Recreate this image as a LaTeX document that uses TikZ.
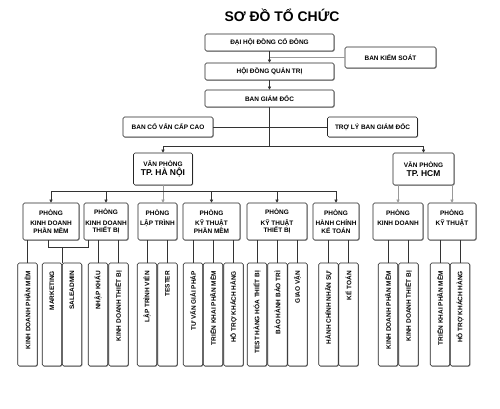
\documentclass[tikz,border=0pt]{standalone}
\usepackage{fontspec}
\setmainfont{Liberation Sans}
\usetikzlibrary{arrows.meta, positioning, calc, shadows}

% rotated text for the narrow boxes, end of text near the top
\newcommand{\vtext}[1]{\rotatebox{90}{\makebox[87bp][r]{#1}}}

\begin{document}
\begin{tikzpicture}[x=1bp, y=-1bp,
	box/.style={draw=black!85, line width=0.6pt, rounded corners=1.5pt, fill=white,
		drop shadow={shadow xshift=0.7pt, shadow yshift=-0.7pt, fill=black!70, opacity=0.7},
		inner sep=0pt, align=center, font=\fontsize{6.5}{7.7}\selectfont\bfseries},
	topbox/.style={box, minimum width=129bp, minimum height=17bp},
	sidebox/.style={box, minimum width=90bp, minimum height=20bp},
	vpbox/.style={box, minimum width=59bp, minimum height=32bp},
	deptbox/.style={box, minimum height=37bp},
	leaf/.style={box, minimum width=19.5bp, minimum height=103bp},
	conn/.style={draw=black!80, line width=0.55pt},
	light/.style={draw=black!40, line width=0.55pt},
	arr/.style={conn, -{Triangle[width=3pt, length=3pt]}},
	]
	\useasboundingbox (0,0) rectangle (500,408);
	\node[font=\fontsize{14}{16}\selectfont\bfseries] (title) at (282,15) {SƠ ĐỒ TỔ CHỨC};
	% Board levels
	\node[topbox] (dhcd) at (269.5,42.5) {ĐẠI HỘI ĐỒNG CỔ ĐÔNG};
	\node[topbox] (hdqt) at (269.5,71.5) {HỘI ĐỒNG QUẢN TRỊ};
	\node[topbox] (bgd) at (269.5,98.5) {BAN GIÁM ĐỐC};
	\node[box, minimum width=91bp, minimum height=21bp] (bks) at (390.5,57.5) {BAN KIỂM SOÁT};
	\node[sidebox] (bcv) at (168,127) {BAN CỐ VẤN CẤP CAO};
	\node[sidebox] (tly) at (372.5,127) {TRỢ LÝ BAN GIÁM ĐỐC};
	% Offices
	\node[vpbox] (vphn) at (163,169) {VĂN PHÒNG\\[1pt]\fontsize{8.5}{10}\selectfont TP. HÀ NỘI};
	\node[vpbox, minimum width=61bp] (vphcm) at (423.5,169) {VĂN PHÒNG\\[1pt]\fontsize{8.5}{10}\selectfont TP. HCM};
	% Departments
	\node[deptbox, minimum width=56bp] (d1) at (51,221.5) {PHÒNG\\[3pt]KINH DOANH\\PHẦN MỀM};
	\node[deptbox, minimum width=44bp] (d2) at (106,221.5) {PHÒNG\\[3pt]KINH DOANH\\THIẾT BỊ};
	\node[deptbox, minimum width=39bp] (d3) at (157.5,221.5) {PHÒNG\\[3pt]LẬP TRÌNH\\\mbox{}};
	\node[deptbox, minimum width=57bp] (d4) at (211.5,221.5) {PHÒNG\\[3pt]KỸ THUẬT\\PHẦN MỀM};
	\node[deptbox, minimum width=60bp] (d5) at (277,221.5) {PHÒNG\\[3pt]KỸ THUẬT\\THIẾT BỊ};
	\node[deptbox, minimum width=46bp] (d6) at (336,221.5) {PHÒNG\\[3pt]HÀNH CHÍNH\\KẾ TOÁN};
	\node[deptbox, minimum width=50bp] (d7) at (398,221.5) {PHÒNG\\[3pt]KINH DOANH\\\mbox{}};
	\node[deptbox, minimum width=48bp] (d8) at (452,221.5) {PHÒNG\\[3pt]KỸ THUẬT\\\mbox{}};
	% Teams
	\foreach \x/\n/\t in {27.5/l1/KINH DOANH PHẦN MỀM, 52/l2/MARKETING, 72/l3/SALEADMIN,
		98/l4/NHẬP KHẨU, 118.5/l5/KINH DOANH THIẾT BỊ, 147/l6/LẬP TRÌNH VIÊN, 167.5/l7/TESTER,
		193/l8/TƯ VẤN GIẢI PHÁP, 213/l9/TRIỂN KHAI PHẦN MỀM, 233.5/l10/HỖ TRỢ KHÁCH HÀNG,
		257/l11/TEST HÀNG HÓA THIẾT BỊ, 277.5/l12/BẢO HÀNH BẢO TRÌ, 297.5/l13/GIAO VẬN,
		328.5/l14/HÀNH CHÍNH NHÂN SỰ, 348.5/l15/KẾ TOÁN, 388/l16/KINH DOANH PHẦN MỀM,
		408.5/l17/KINH DOANH THIẾT BỊ, 440/l18/TRIỂN KHAI PHẦN MỀM, 460/l19/HỖ TRỢ KHÁCH HÀNG}
		\node[leaf] (\n) at (\x,314.5) {\vtext{\t}};
	% Connectors
	\draw[arr] (dhcd) -- (hdqt);
	\draw[light] (bks.west) -- (bks.west -| dhcd.south);
	\draw[arr] (hdqt) -- (bgd);
	\coordinate (bus1) at ($(bgd.south)+(0,39)$);
	\draw[conn] (bgd.south) -- (bus1);
	\draw[conn] (bcv) -- (tly);
	\draw[arr] (bus1) -| (vphn.north);
	\draw[arr] (bus1) -| (vphcm.north);
	\coordinate (bus2) at ($(vphn.south)+(0,6)$);
	\draw[arr, draw=black!40] (vphn.south) -- (vphn.south |- d3.north);
	\foreach \d in {d1,d2,d4,d5,d6}
		\draw[arr] (bus2) -| (\d.north);
	\draw[arr, draw=black!40] (vphcm.south -| d7.north) -- (d7.north);
	\draw[arr, draw=black!40] (vphcm.south -| d8.north) -- (d8.north);
	\foreach \d/\l in {d1/l1, d2/l4, d2/l5, d3/l6, d3/l7, d4/l8, d4/l9, d4/l10, d5/l11, d5/l12,
		d5/l13, d6/l14, d6/l15, d7/l16, d7/l17, d8/l18, d8/l19}
		\draw[conn] (\l.north |- \d.south) -- (\l.north);
	\coordinate (mk) at ($(l2.north east)+(0,-15)$);
	\draw[conn] ([xshift=-3pt]d1.south) |- (mk) -| ([xshift=5pt]d2.south west);
	\draw[conn] (mk) -- (l2.north east);
\end{tikzpicture}
\end{document}
